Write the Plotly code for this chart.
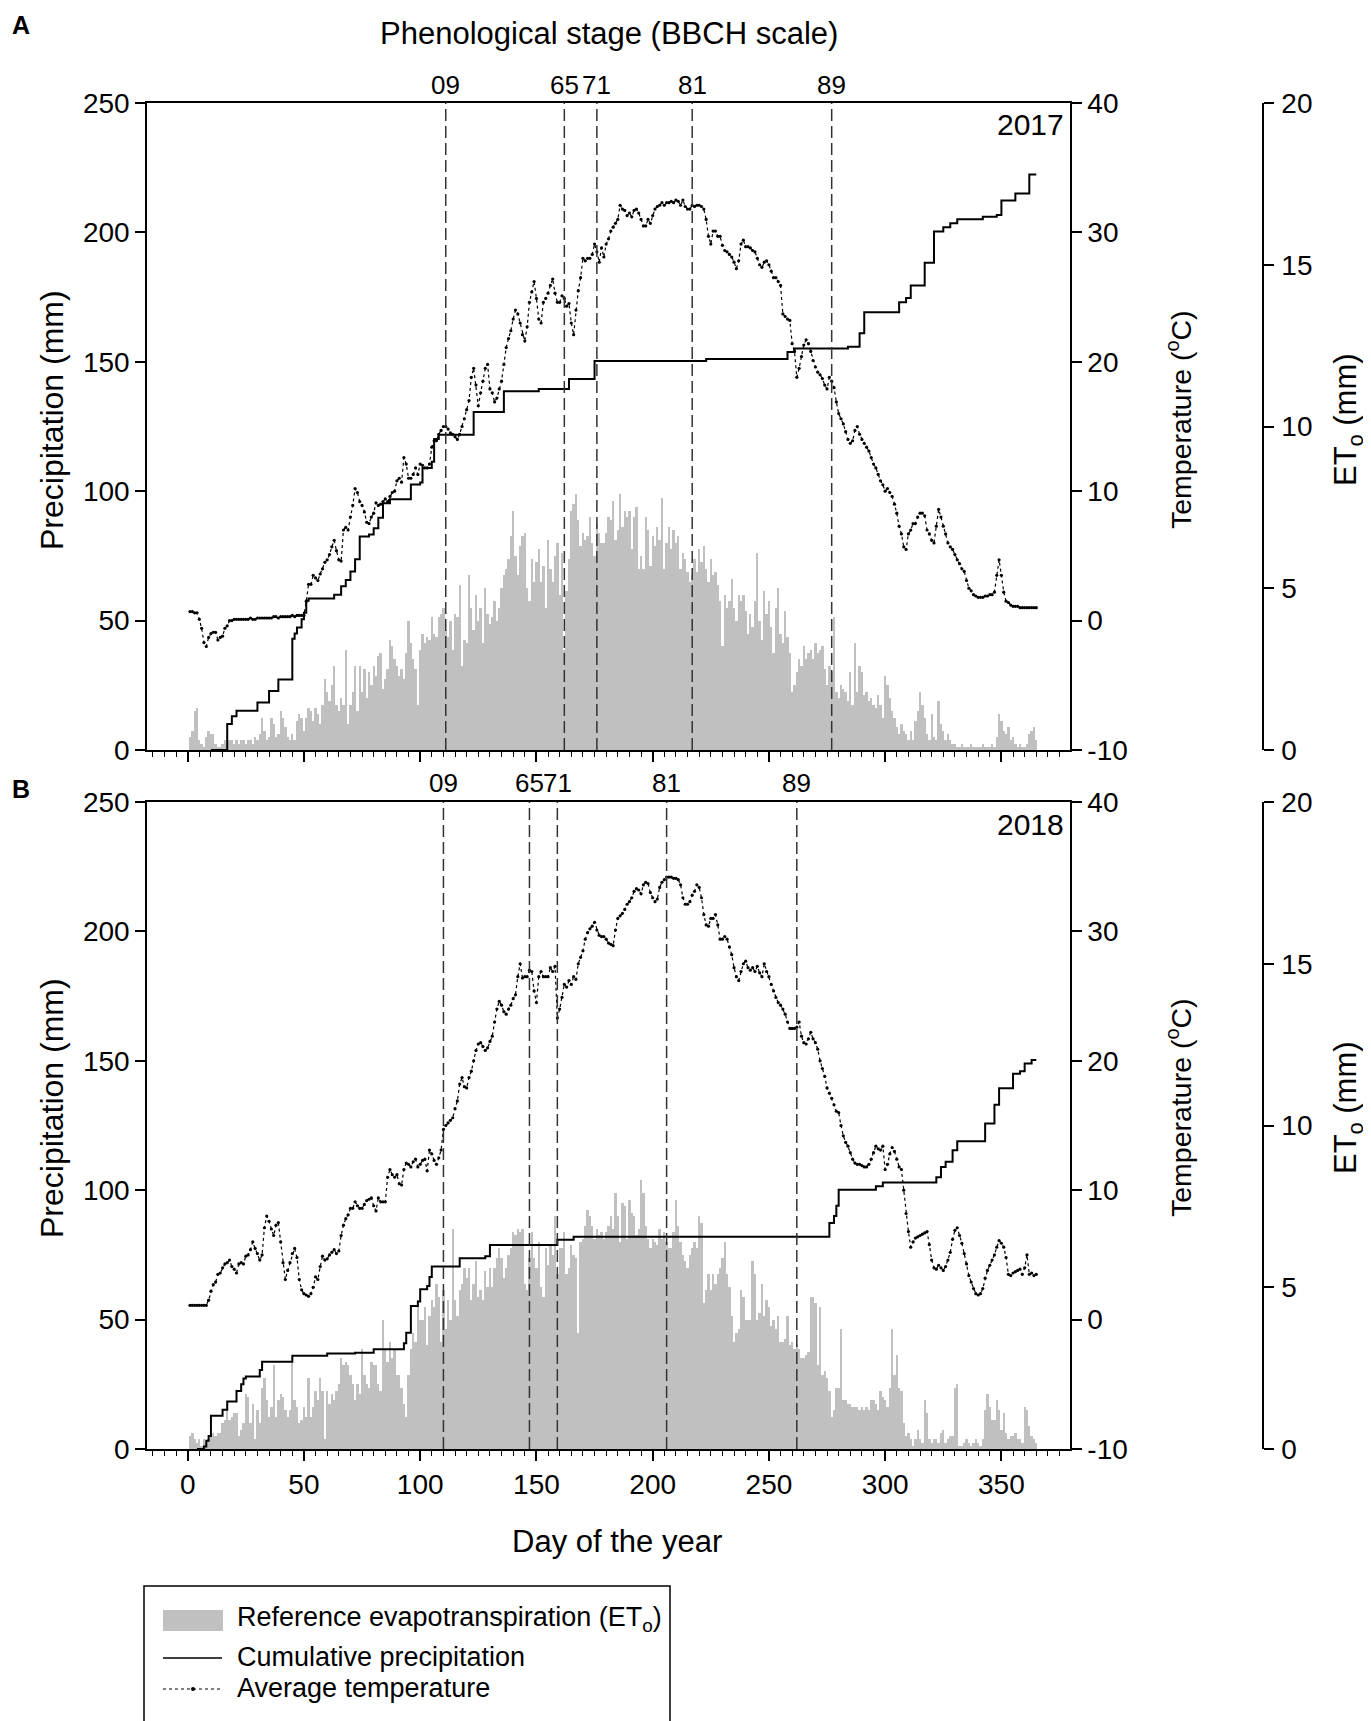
import plotly.graph_objects as go

# ---------------- data ----------------
eto_2017 = [
 0.4,0.6,1.2,1.3,0.3,0.2,0.1,0.4,0.6,0.5,
 0.5,0.2,0.1,0.1,0.2,0.3,0.2,0.3,0.3,0.2,
 0.3,0.2,0.3,0.3,0.2,0.3,0.3,0.2,0.4,0.3,
 0.5,1.0,0.6,0.3,0.4,1.0,0.8,0.4,0.5,1.2,
 1.0,0.7,0.4,0.3,0.5,0.3,0.9,1.1,1.0,0.6,
 1.0,1.3,1.2,0.9,1.3,1.1,0.8,1.4,2.2,1.8,
 1.5,2.0,2.6,1.4,1.2,1.6,1.4,3.1,0.8,1.4,
 1.8,2.6,1.2,2.6,1.8,2.5,1.6,2.4,2.0,2.6,
 2.3,2.9,3.0,1.9,2.2,2.5,3.4,3.2,2.8,2.6,
 2.3,2.5,2.2,3.0,4.0,3.3,2.8,2.5,1.4,3.1,
 3.6,3.3,3.5,3.4,4.1,3.6,3.5,4.1,4.2,4.4,
 3.7,3.5,4.0,3.1,4.2,4.1,5.1,2.6,3.4,3.3,
 5.4,4.4,3.7,4.8,4.0,4.4,3.3,5.0,4.2,3.9,
 4.1,4.6,4.0,4.4,5.0,5.4,5.6,5.9,6.6,7.4,
 6.0,5.4,6.3,6.6,6.7,5.0,4.6,5.9,5.2,5.8,
 6.2,5.2,5.7,4.4,6.5,5.6,5.2,6.0,6.4,4.8,
 6.1,3.1,4.9,5.9,7.4,7.6,7.9,7.1,6.3,6.7,
 6.5,6.6,7.2,6.4,6.0,7.0,6.7,6.4,6.4,6.7,
 7.2,7.1,7.7,6.5,6.8,7.9,6.9,7.4,7.2,7.4,
 6.2,7.2,7.5,5.6,6.0,5.6,7.2,6.8,5.7,6.6,
 6.3,6.9,6.5,7.8,5.6,6.4,6.9,6.2,6.8,6.4,
 6.6,5.6,6.1,5.9,5.5,5.2,5.4,5.9,5.5,6.2,
 5.8,6.3,5.6,5.2,5.9,5.4,5.5,5.1,4.6,3.2,
 4.8,4.4,4.6,5.3,4.4,4.0,4.8,4.6,4.8,4.3,
 3.6,4.2,3.8,4.6,6.1,4.0,3.4,4.9,4.2,4.6,
 3.8,3.0,4.4,5.0,3.6,3.3,4.3,3.5,3.0,1.8,
 2.0,2.4,2.8,2.6,3.2,2.8,3.0,3.1,2.8,3.3,
 3.0,3.1,3.2,2.5,2.0,2.6,2.4,4.1,1.8,1.6,
 2.0,1.9,1.8,1.5,2.4,1.4,3.3,1.8,2.6,2.4,
 1.7,1.8,1.5,1.6,1.4,1.3,1.7,1.4,1.0,2.3,
 2.0,1.6,1.2,1.0,0.7,0.5,0.8,0.6,0.5,0.3,
 0.6,0.3,0.9,1.2,1.8,1.4,1.0,0.5,0.3,1.1,
 0.4,0.3,1.5,0.8,0.6,0.3,0.5,0.3,0.2,0.2,
 0.1,0.1,0.2,0.1,0.1,0.1,0.2,0.1,0.1,0.1,
 0.1,0.2,0.1,0.1,0.1,0.2,0.1,0.4,1.1,0.9,
 0.6,0.5,0.7,0.3,0.4,0.2,0.1,0.2,0.1,0.1,
 0.2,0.5,0.6,0.7,0.3]

eto_2018 = [
 0.4,0.5,0.3,0.2,0.3,0.1,0.3,0.2,0.3,0.4,
 0.5,0.4,0.5,0.5,0.8,0.9,1.2,0.9,1.0,1.1,
 1.1,0.4,0.6,0.8,1.7,1.6,0.8,1.4,0.3,1.2,
 0.8,1.9,2.2,1.5,1.0,1.3,2.6,1.0,1.5,1.7,
 1.6,1.2,1.0,1.2,2.7,1.5,1.3,0.8,0.9,1.3,
 1.0,2.2,1.0,1.3,1.8,1.5,2.2,1.8,0.3,1.8,
 1.4,1.7,1.5,1.8,2.0,2.8,2.6,2.7,2.6,2.3,
 2.0,1.5,2.0,1.7,3.1,2.3,2.0,1.9,2.7,2.6,
 2.6,2.0,1.8,4.0,3.1,2.7,3.3,2.8,3.1,2.3,
 2.3,1.9,1.4,1.0,2.3,3.1,3.6,3.3,4.6,4.0,
 4.0,4.4,3.2,4.1,4.6,4.4,5.1,4.7,3.3,4.9,
 3.7,4.6,4.0,6.8,4.6,4.1,4.9,5.1,5.6,5.3,
 5.6,4.6,5.1,5.8,4.7,4.9,4.6,5.5,5.0,5.6,
 5.0,5.6,5.9,6.2,5.9,5.3,5.6,6.0,6.2,6.7,
 6.6,6.8,6.7,6.8,5.1,4.9,5.9,6.7,5.9,5.6,
 6.4,5.0,4.7,6.2,5.7,6.3,6.0,7.2,5.4,6.2,
 6.2,6.7,5.4,5.6,6.3,6.0,5.9,3.6,6.4,6.5,
 6.9,7.4,7.2,6.9,6.5,6.8,6.6,6.7,6.5,6.7,
 6.9,7.2,6.8,7.9,7.2,6.4,7.6,7.5,6.5,7.7,
 7.3,7.2,6.6,6.8,8.3,7.9,6.9,6.5,6.2,6.5,
 6.4,6.3,6.8,6.5,6.7,6.4,6.2,6.2,6.7,7.7,
 6.9,6.4,6.0,5.8,5.6,6.0,6.2,6.4,6.2,7.2,
 7.0,4.5,4.9,5.4,4.9,5.4,5.1,5.4,5.6,5.9,
 6.4,5.4,5.0,4.1,3.3,3.6,3.7,4.9,4.7,4.0,
 4.0,4.0,5.8,5.4,4.0,4.2,5.1,4.1,4.6,4.4,
 3.8,4.0,3.7,4.1,3.3,3.3,3.4,4.1,3.2,3.3,
 3.1,3.2,3.1,2.8,2.8,2.9,3.0,4.7,4.7,4.5,
 2.6,4.4,2.3,2.4,2.2,1.8,1.0,1.2,1.9,1.9,
 3.7,1.5,1.5,1.4,1.4,1.3,1.3,1.3,1.2,1.3,
 1.2,1.3,1.2,1.5,1.5,1.4,1.2,1.8,1.6,1.5,
 1.3,1.9,3.7,2.3,2.9,1.9,1.8,0.8,0.4,0.5,
 0.3,0.1,0.3,0.6,0.3,0.2,1.5,1.1,0.3,0.2,
 0.3,0.3,0.2,0.5,0.6,0.2,0.3,0.4,0.4,1.9,
 2.0,0.1,0.1,0.2,0.3,0.2,0.1,0.2,0.3,0.2,
 0.1,0.3,1.2,1.7,1.3,0.9,0.9,1.5,1.2,0.6,
 1.1,0.5,0.3,0.4,0.4,0.5,0.3,0.3,0.2,1.3,
 1.2,0.7,0.4,0.3,0.2]

temp_2017 = [
 0.7,0.7,0.6,0.6,0.1,-0.6,-1.7,-2.0,-1.3,-1.0,
 -0.9,-0.9,-1.5,-1.3,-1.2,-0.6,-0.4,0.0,0.0,0.1,
 0.1,0.1,0.1,0.1,0.1,0.1,0.2,0.1,0.1,0.2,
 0.2,0.2,0.2,0.2,0.2,0.2,0.3,0.3,0.2,0.3,
 0.3,0.3,0.3,0.3,0.4,0.3,0.4,0.4,0.4,0.4,
 1.5,2.8,2.8,3.5,3.3,3.1,3.6,4.0,4.5,4.7,
 5.1,5.7,6.2,5.4,4.7,4.6,7.0,7.2,7.0,8.0,
 8.9,10.2,9.9,9.2,8.9,8.4,7.6,7.5,8.0,8.3,
 9.1,8.9,9.0,9.2,9.4,9.2,9.6,9.9,10.0,10.8,
 11.0,10.7,12.6,12.1,11.0,11.0,11.3,11.8,11.3,12.1,
 12.0,11.8,11.8,12.1,13.4,13.9,13.9,14.4,14.7,15.0,
 15.0,14.8,14.5,14.4,14.2,14.0,14.4,15.0,15.6,16.3,
 17.0,18.8,19.5,18.2,16.6,17.6,18.5,19.5,19.8,17.9,
 17.6,16.9,17.2,17.9,18.5,19.8,21.1,21.8,22.4,23.3,
 24.0,23.7,23.0,22.1,21.6,22.7,24.6,25.4,26.2,24.9,
 23.3,23.0,24.6,24.9,25.3,25.9,26.4,25.3,24.6,24.6,
 25.1,24.9,24.3,24.5,23.0,22.1,24.0,25.5,26.5,28.0,
 27.8,28.0,28.0,28.3,29.1,28.5,27.7,28.8,28.1,29.1,
 29.5,30.1,30.4,30.7,31.0,32.1,31.8,31.7,31.3,31.5,
 31.2,31.7,31.8,31.5,31.0,30.5,30.5,31.0,30.7,31.3,
 31.8,32.0,32.1,32.3,32.1,32.3,32.3,32.4,32.3,32.5,
 32.4,32.1,32.5,32.0,31.8,31.8,32.1,32.0,32.1,32.1,
 32.0,31.8,31.0,29.7,29.1,30.1,30.1,29.7,29.7,29.0,
 28.6,28.5,28.3,28.1,27.7,27.2,27.8,29.1,29.4,28.9,
 28.9,28.8,28.6,28.5,28.0,27.5,27.3,27.7,27.8,27.5,
 27.0,26.5,26.5,26.2,25.9,23.7,23.5,23.3,23.2,21.4,
 20.8,18.8,19.5,20.4,21.3,21.7,21.4,20.8,20.1,19.6,
 19.2,19.0,18.7,18.2,17.9,18.8,18.5,18.0,16.9,16.0,
 15.6,15.2,14.6,14.0,13.7,13.9,14.7,15.0,14.4,14.0,
 13.7,13.4,13.1,12.6,12.1,11.8,11.3,10.8,10.5,10.0,
 10.2,9.9,9.6,9.0,8.3,7.3,6.7,5.7,5.5,6.7,
 7.0,7.5,7.5,8.0,8.3,8.3,8.1,7.0,6.7,6.2,
 6.0,7.3,8.6,8.0,7.3,6.7,6.0,5.7,5.5,5.1,
 4.7,4.4,4.0,3.8,3.1,2.5,2.3,2.0,1.9,1.8,
 1.8,1.8,1.9,1.9,2.0,2.0,2.2,3.5,4.7,3.5,
 2.2,1.5,1.4,1.2,1.1,1.1,1.1,1.0,1.0,1.0,
 1.0,1.0,1.0,1.0,1.0]

temp_2018 = [
 1.1,1.1,1.1,1.1,1.1,1.1,1.1,1.1,1.5,2.2,
 2.7,2.9,3.5,3.6,4.0,4.3,4.4,4.6,4.1,3.9,
 3.6,4.3,4.4,4.3,4.9,5.0,5.4,6.0,5.5,5.1,
 4.6,5.0,7.1,8.0,7.6,7.0,6.5,7.3,7.5,6.0,
 4.4,3.1,3.8,4.4,5.1,5.5,4.8,3.1,2.3,2.0,
 1.9,1.8,2.0,2.5,3.3,3.1,4.1,4.9,4.6,4.7,
 5.0,5.2,5.4,5.1,5.3,6.5,7.3,7.8,8.1,8.6,
 8.6,9.1,8.8,8.6,8.6,8.9,9.2,9.3,9.4,8.8,
 8.4,9.4,9.1,9.1,9.1,11.0,11.6,11.2,11.0,11.2,
 10.5,10.4,11.6,12.1,12.0,11.8,12.2,12.4,11.8,12.0,
 12.3,12.4,11.5,13.1,12.8,12.3,12.0,12.5,13.1,14.7,
 15.0,15.2,15.4,15.6,16.3,16.9,18.2,18.7,18.0,17.9,
 18.7,19.2,20.0,20.8,21.3,21.4,21.1,20.8,21.0,21.5,
 21.9,23.0,24.0,24.6,24.3,23.8,23.6,24.0,24.3,24.8,
 25.1,26.5,27.5,26.4,26.5,26.5,27.0,26.9,25.4,24.5,
 26.5,26.9,26.5,26.5,26.5,27.2,26.9,27.3,23.3,24.0,
 24.9,25.9,25.7,26.2,25.9,26.5,26.3,27.5,28.0,28.5,
 29.4,29.9,30.2,30.4,30.7,30.1,29.7,29.6,29.6,29.4,
 29.1,29.0,28.9,30.1,31.0,31.2,31.4,31.7,32.1,32.3,
 32.6,33.1,33.3,33.2,32.9,33.6,33.8,33.7,33.0,32.6,
 32.3,32.5,33.4,33.8,34.0,34.2,34.2,34.2,34.1,34.1,
 34.0,33.6,32.6,32.1,32.1,32.3,32.8,33.1,33.6,33.4,
 32.6,31.3,30.5,30.4,31.0,31.0,31.3,30.5,29.4,29.4,
 29.6,29.4,28.8,28.2,27.2,26.5,26.2,26.9,27.5,27.7,
 27.2,27.0,27.2,26.9,27.3,26.8,26.5,27.5,26.9,26.5,
 25.9,25.4,24.9,24.5,24.3,24.0,23.6,23.0,22.5,22.5,
 22.5,22.6,23.0,21.9,21.4,21.3,21.7,22.2,21.7,21.4,
 20.9,20.0,19.4,18.8,17.9,17.5,17.1,16.6,16.1,16.0,
 15.0,14.2,13.7,13.4,12.9,12.4,12.1,12.0,12.0,11.9,
 11.8,11.8,12.0,12.4,12.9,13.4,13.2,13.1,13.4,11.6,
 12.0,12.8,13.3,13.0,12.4,11.8,11.6,10.0,8.2,6.8,
 5.6,6.0,6.3,6.4,6.5,6.6,6.7,6.8,5.8,4.6,
 4.0,3.9,4.2,4.0,3.8,4.1,4.6,5.2,6.2,6.9,
 7.1,6.5,5.9,5.1,4.3,3.4,2.9,2.4,2.0,1.9,
 2.0,2.4,3.2,3.8,4.2,4.6,5.0,5.6,6.1,5.9,
 5.6,4.8,3.5,3.4,3.6,3.7,3.8,3.9,3.5,4.0,
 5.0,3.5,3.6,3.4,3.5]

# cumulative precipitation (mm): day at which each new total starts, and the total
cum_2017_day = [10, 17, 19, 21, 30, 35, 39, 45, 46, 47, 49, 50, 51, 52, 63, 66, 68, 70, 72, 74,
                78, 80, 82, 84, 87, 96, 100, 101, 105, 106, 108, 123, 136, 151, 164, 175, 223, 258,
                261, 284, 289, 291, 306, 309, 311, 317, 321, 325, 328, 331, 342, 348, 350, 356,
                362, 365]
cum_2017_val = [0, 10, 13, 15.2, 18.4, 22.8, 27.2, 43, 45, 47.3, 50.5, 53, 57.7, 58.5, 60, 63.3,
                65.7, 69, 73.7, 82.5, 83.3, 85.7, 89.7, 95.3, 96.9, 102.6, 103.4, 109, 111.4,
                120.2, 121.8, 130.6, 138.6, 139.5, 143.4, 150.3, 151.1, 153.8, 155.1, 155.8, 161,
                169.1, 173, 174.7, 179.5, 188.3, 200.3, 202, 203.5, 205.1, 206, 206.7, 212.3, 215,
                222.4, 222.4]

cum_2018_day = [4, 7, 8, 9, 10, 15, 17, 21, 23, 24, 25, 31, 32, 45, 60, 72, 80, 93, 94, 96, 99,
                100, 103, 104, 105, 117, 128, 130, 159, 166, 276, 278, 279, 280, 296, 299, 322,
                324, 326, 329, 331, 343, 347, 349, 355, 358, 360, 363, 365]
cum_2018_val = [0, 1, 3.2, 5, 12.8, 15.2, 18.4, 22.4, 25, 27.2, 28, 30.5, 33.7, 36, 36.9, 37.2,
                38.5, 40.9, 44.9, 55.3, 57, 61.7, 63, 66.5, 70.5, 73.7, 74.5, 78.8, 80.9, 82,
                87.3, 90, 94, 100.2, 101.5, 103, 105, 109, 111, 115.4, 118.9, 125.8, 133, 139.4,
                145, 146, 149, 150.3, 150.3]

bbch_labels = ["09", "65", "71", "81", "89"]
bbch_2017 = [111, 162, 176, 217, 277]
bbch_2018 = [110, 147, 159, 206, 262]

day_ticks = [0, 50, 100, 150, 200, 250, 300, 350]
precip_ticks = [0, 50, 100, 150, 200, 250]
temp_ticks = [-10, 0, 10, 20, 30, 40]
eto_ticks = [0, 5, 10, 15, 20]

# ---------------- layout helpers ----------------
W, H = 1371, 1721
def X(px):
    return px / W
def Y(py):
    return 1 - py / H

FONT = "Liberation Sans, Arial, sans-serif"
TICK = 28
GRAY = "#c0c0c0"

xdom = [X(139), X(1062)]
panels = [
    dict(name="A", year="2017", top=95, bottom=742, eto=eto_2017, temp=temp_2017,
         cday=cum_2017_day, cval=cum_2017_val, bbch=bbch_2017, lbl_y=77, letter_y=17,
         title_y=412, xa="x", ya=["y", "y2", "y3"], labels=False),
    dict(name="B", year="2018", top=794, bottom=1441, eto=eto_2018, temp=temp_2018,
         cday=cum_2018_day, cval=cum_2018_val, bbch=bbch_2018, lbl_y=775, letter_y=781,
         title_y=1100, xa="x2", ya=["y4", "y5", "y6"], labels=True),
]

fig = go.Figure()
shapes = []
annotations = []

axis_common = dict(showline=True, linecolor="black", linewidth=1.5, ticks="outside",
                   ticklen=10, tickwidth=1.5, tickcolor="black", showgrid=False,
                   zeroline=False, tickfont=dict(size=TICK, family=FONT, color="black"))

layout_axes = {}
for i, p in enumerate(panels):
    ydom = [Y(p["bottom"]), Y(p["top"])]
    xa = p["xa"]
    ya_eto, ya_pr, ya_t = p["ya"]
    days = list(range(1, len(p["eto"]) + 1))
    tdays = list(range(1, len(p["temp"]) + 1))

    fig.add_trace(go.Bar(x=days, y=p["eto"], xaxis=xa, yaxis=ya_eto, width=1.0,
                         marker=dict(color=GRAY, line=dict(width=0)), showlegend=False,
                         name="Reference evapotranspiration"))
    fig.add_trace(go.Scatter(x=p["cday"], y=p["cval"], xaxis=xa, yaxis=ya_pr, mode="lines",
                             line=dict(color="black", width=2, shape="hv"), showlegend=False,
                             name="Cumulative precipitation"))
    fig.add_trace(go.Scatter(x=tdays, y=p["temp"], xaxis=xa, yaxis=ya_t, mode="lines+markers",
                             line=dict(color="black", width=1.2, dash="dot"),
                             marker=dict(size=3.2, color="black"), showlegend=False,
                             name="Average temperature"))

    xkey = "xaxis" if xa == "x" else "xaxis" + xa[1:]
    def ykey(a):
        return "yaxis" if a == "y" else "yaxis" + a[1:]

    layout_axes[xkey] = dict(axis_common, domain=xdom, anchor=ya_pr, range=[-17.5, 379.5],
                             mirror=True, tickvals=day_ticks, showticklabels=p["labels"],
                             minor=dict(dtick=5, tick0=0, ticklen=5, ticks="outside",
                                        tickwidth=1.2, tickcolor="black"))
    layout_axes[ykey(ya_eto)] = dict(axis_common, domain=ydom, anchor="free", position=X(1255),
                                     side="right", range=[0, 20], tickvals=eto_ticks,
                                     ticklabelstandoff=2)
    layout_axes[ykey(ya_pr)] = dict(axis_common, overlaying=ya_eto, anchor=xa, side="left",
                                    range=[0, 250], tickvals=precip_ticks)
    layout_axes[ykey(ya_t)] = dict(axis_common, overlaying=ya_eto, anchor=xa, side="right",
                                   range=[-10, 40], tickvals=temp_ticks,
                                   ticktext=[str(v) for v in temp_ticks])

    # phenological stage lines and labels
    for lab, d in zip(bbch_labels, p["bbch"]):
        shapes.append(dict(type="line", xref=xa, yref=ya_eto + " domain", x0=d, x1=d, y0=0, y1=1,
                           line=dict(color="#333333", width=1.5, dash="12px,5px"), layer="above"))
        annotations.append(dict(x=d, xref=xa, y=Y(p["lbl_y"]), yref="paper", text=lab,
                                showarrow=False, xanchor="center", yanchor="middle",
                                font=dict(size=26, family=FONT, color="black")))

    annotations.append(dict(x=X(1058), y=Y(p["top"] + 22), xref="paper", yref="paper",
                            text=p["year"], showarrow=False, xanchor="right", yanchor="middle",
                            font=dict(size=30, family=FONT, color="black")))
    annotations.append(dict(x=X(2), y=Y(p["letter_y"]), xref="paper", yref="paper",
                            text="<b>" + p["name"] + "</b>", showarrow=False, xanchor="left",
                            yanchor="middle", font=dict(size=25, family=FONT, color="black")))
    annotations.append(dict(x=X(44), y=Y(p["title_y"]), xref="paper", yref="paper",
                            text="Precipitation (mm)", textangle=-90, showarrow=False,
                            xanchor="center", yanchor="middle",
                            font=dict(size=32, family=FONT, color="black")))
    annotations.append(dict(x=X(1171), y=Y(p["title_y"]), xref="paper", yref="paper",
                            text="Temperature (<sup>o</sup>C)", textangle=-90, showarrow=False,
                            xanchor="center", yanchor="middle",
                            font=dict(size=28.5, family=FONT, color="black")))
    annotations.append(dict(x=X(1340), y=Y(p["title_y"]), xref="paper", yref="paper",
                            text="ET<sub>o</sub> (mm)", textangle=-90, showarrow=False,
                            xanchor="center", yanchor="middle",
                            font=dict(size=31, family=FONT, color="black")))

annotations.append(dict(x=X(601), y=Y(25), xref="paper", yref="paper",
                        text="Phenological stage (BBCH scale)", showarrow=False,
                        xanchor="center", yanchor="middle",
                        font=dict(size=31, family=FONT, color="black")))
annotations.append(dict(x=X(609), y=Y(1533), xref="paper", yref="paper",
                        text="Day of the year", showarrow=False,
                        xanchor="center", yanchor="middle",
                        font=dict(size=31, family=FONT, color="black")))

# ---------------- legend (drawn) ----------------
shapes.append(dict(type="rect", xref="paper", yref="paper", x0=X(136), x1=X(662), y0=Y(1716),
                   y1=Y(1578), line=dict(color="black", width=1.5), fillcolor="rgba(0,0,0,0)"))
shapes.append(dict(type="rect", xref="paper", yref="paper", x0=X(155), x1=X(215), y0=Y(1623),
                   y1=Y(1602), line=dict(width=0), fillcolor=GRAY))
shapes.append(dict(type="line", xref="paper", yref="paper", x0=X(155), x1=X(214), y0=Y(1650),
                   y1=Y(1650), line=dict(color="black", width=1.5)))
shapes.append(dict(type="line", xref="paper", yref="paper", x0=X(155), x1=X(214), y0=Y(1681),
                   y1=Y(1681), line=dict(color="black", width=1.2, dash="dot")))
shapes.append(dict(type="circle", xref="paper", yref="paper", x0=X(183), x1=X(187), y0=Y(1683),
                   y1=Y(1679), line=dict(width=0), fillcolor="black"))
legend_items = [("Reference evapotranspiration (ET<sub>o</sub>)", 1611),
                ("Cumulative precipitation", 1649),
                ("Average temperature", 1680)]
for txt, py in legend_items:
    annotations.append(dict(x=X(227), y=Y(py), xref="paper", yref="paper", text=txt,
                            showarrow=False, xanchor="left", yanchor="middle",
                            font=dict(size=27, family=FONT, color="black")))

fig.update_layout(
    template="none",
    width=W, height=H,
    margin=dict(l=0, r=0, t=0, b=0, pad=0),
    paper_bgcolor="white", plot_bgcolor="white",
    font=dict(family=FONT, color="black"),
    bargap=0, barmode="overlay",
    showlegend=False,
    shapes=shapes, annotations=annotations,
    **layout_axes,
)

fig.write_html("out.html")
